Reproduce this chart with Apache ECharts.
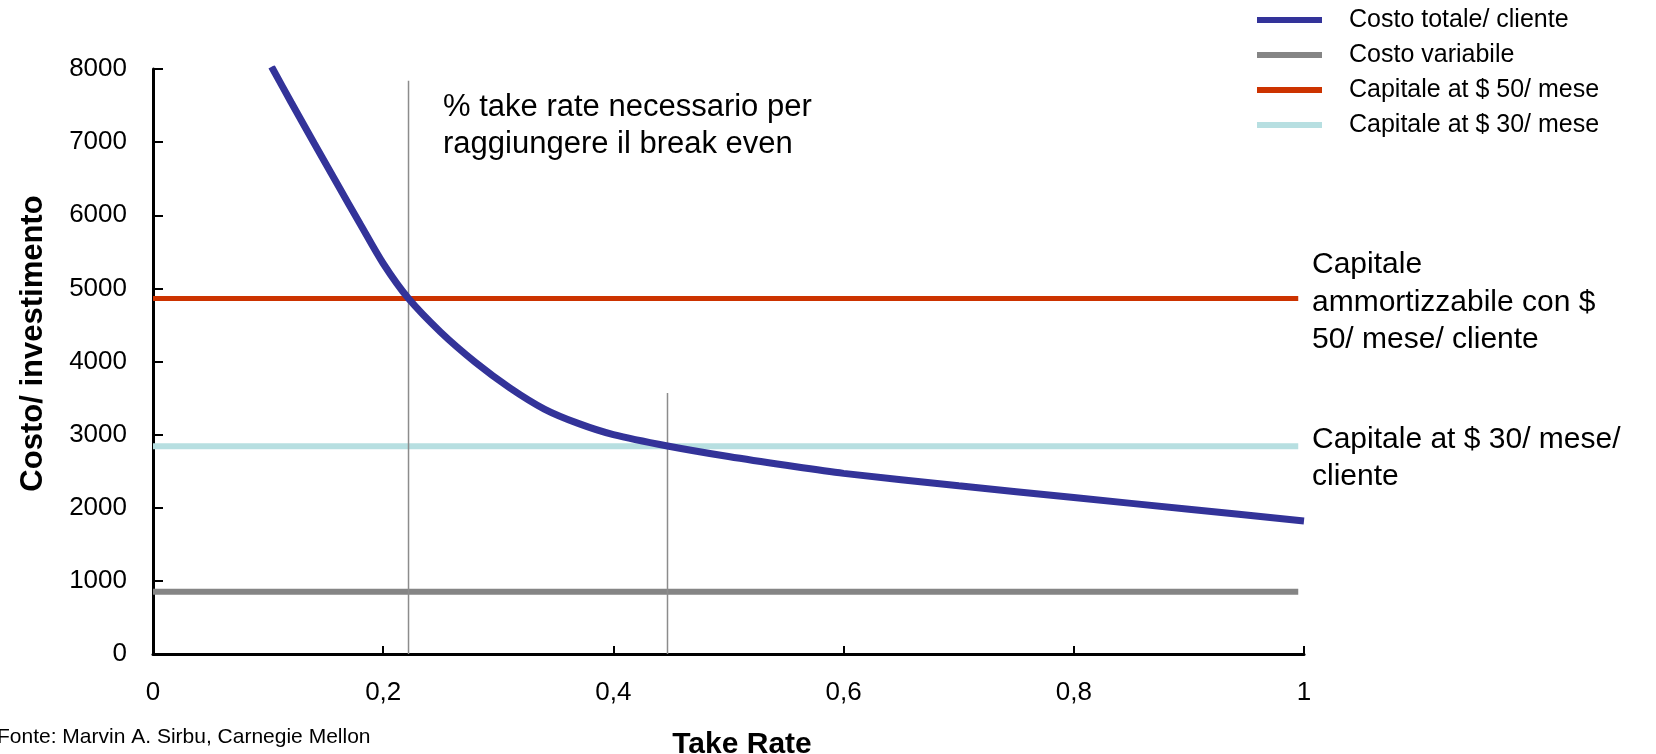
<!DOCTYPE html>
<html>
<head>
<meta charset="utf-8">
<title>Take rate break even</title>
<script src="https://cdn.jsdelivr.net/npm/echarts@6/dist/echarts.min.js"></script>
<style>
  html, body { margin: 0; padding: 0; background: #fff; }
  #chart { width: 1656px; height: 754px; }
</style>
</head>
<body>
<div id="chart"></div>
<script>
// take rate (x) e costo totale per cliente (y)
const takeRate = [0.103, 0.12, 0.14, 0.16, 0.18, 0.2, 0.222, 0.25, 0.28, 0.31, 0.34, 0.37, 0.4, 0.447, 0.5, 0.55, 0.6, 0.7, 0.8, 0.9, 1.0];
const costoTotale = [8030, 7545, 6985, 6430, 5880, 5340, 4860, 4400, 3990, 3640, 3350, 3150, 3000, 2845, 2700, 2580, 2470, 2300, 2140, 1980, 1820];

// livelli orizzontali
const costoVariabile = 850;
const capitale50 = 4860;
const capitale30 = 2840;
const lineFrom = 0;
const lineTo = 0.995;

// linee verticali di break even: [take rate, altezza]
const breakEven50 = [0.222, 7840];
const breakEven30 = [0.447, 3570];

const xTickLabels = ['0', '0,2', '0,4', '0,6', '0,8', '1'];
const yTickLabels = ['0', '1000', '2000', '3000', '4000', '5000', '6000', '7000', '8000'];

const seriesNames = ['Costo totale/ cliente', 'Costo variabile', 'Capitale at $ 50/ mese', 'Capitale at $ 30/ mese'];
const colors = ['#333399', '#858585', '#CC3300', '#B7DFE1'];

const FONT = '"Liberation Sans", Arial, sans-serif';

const chart = echarts.init(document.getElementById('chart'));

function hLine(name, value, color, width) {
  return {
    name: name,
    type: 'line',
    data: [[lineFrom, value], [lineTo, value]],
    symbol: 'none',
    lineStyle: { color: color, width: width },
    itemStyle: { color: color },
    z: 2,
    silent: true
  };
}
function vLine(p) {
  return {
    type: 'line',
    data: [[p[0], 0], [p[0], p[1]]],
    symbol: 'none',
    lineStyle: { color: '#8c8c8c', width: 1.5 },
    z: 3,
    silent: true
  };
}

const option = {
  backgroundColor: '#fff',
  animation: false,
  textStyle: { fontFamily: FONT },
  grid: {
    left: 153,
    right: 352,
    top: 69,
    bottom: 100,
    containLabel: false,
    outerBoundsMode: 'none'
  },
  legend: {
    data: seriesNames,
    orient: 'vertical',
    left: 1257,
    top: 6,
    padding: 0,
    icon: 'rect',
    itemWidth: 65,
    itemHeight: 6,
    itemGap: 7,
    selectedMode: false,
    itemStyle: { borderWidth: 0 },
    lineStyle: { width: 0 },
    textStyle: { fontSize: 25, lineHeight: 28, color: '#000', padding: [0, 0, 0, 22], fontFamily: FONT }
  },
  xAxis: {
    type: 'value',
    min: 0,
    max: 1,
    interval: 0.2,
    name: 'Take Rate',
    nameLocation: 'middle',
    nameGap: 76,
    nameTextStyle: { fontSize: 30, fontWeight: 'bold', color: '#000', padding: [0, 0, 0, 27] },
    axisLine: { lineStyle: { color: '#000', width: 3 } },
    axisTick: { inside: true, length: 8, lineStyle: { color: '#000', width: 2 } },
    axisLabel: {
      fontSize: 26,
      color: '#000',
      margin: 26,
      formatter: function (v, i) { return xTickLabels[i]; }
    },
    splitLine: { show: false }
  },
  yAxis: {
    type: 'value',
    min: 0,
    max: 8000,
    interval: 1000,
    name: 'Costo/ investimento',
    nameLocation: 'middle',
    nameGap: 104,
    nameRotate: 90,
    nameTextStyle: { fontSize: 31, fontWeight: 'bold', color: '#000', padding: [0, 0, 0, 36] },
    axisLine: { show: true, lineStyle: { color: '#000', width: 3 } },
    axisTick: { show: true, inside: true, length: 10, lineStyle: { color: '#000', width: 2 } },
    axisLabel: {
      fontSize: 26,
      color: '#000',
      margin: 26,
      formatter: function (v, i) { return yTickLabels[i]; }
    },
    splitLine: { show: false }
  },
  series: [
    hLine(seriesNames[1], costoVariabile, colors[1], 6),
    hLine(seriesNames[2], capitale50, colors[2], 5),
    hLine(seriesNames[3], capitale30, colors[3], 6),
    vLine(breakEven50),
    vLine(breakEven30),
    {
      name: seriesNames[0],
      type: 'line',
      data: takeRate.map(function (x, i) { return [x, costoTotale[i]]; }),
      smooth: 0.3,
      symbol: 'none',
      lineStyle: { color: colors[0], width: 7 },
      itemStyle: { color: colors[0] },
      z: 4
    }
  ],
  graphic: [
    {
      type: 'text',
      left: 443,
      top: 89,
      style: {
        text: '% take rate necessario per\nraggiungere il break even',
        fontSize: 31,
        lineHeight: 37,
        fill: '#000',
        fontFamily: FONT
      }
    },
    {
      type: 'text',
      left: 1312,
      top: 246,
      style: {
        text: 'Capitale\nammortizzabile con $\n50/ mese/ cliente',
        fontSize: 30,
        lineHeight: 37.5,
        fill: '#000',
        fontFamily: FONT
      }
    },
    {
      type: 'text',
      left: 1312,
      top: 421,
      style: {
        text: 'Capitale at $ 30/ mese/\ncliente',
        fontSize: 30,
        lineHeight: 37,
        fill: '#000',
        fontFamily: FONT
      }
    },
    {
      type: 'text',
      left: -3,
      top: 727,
      style: {
        text: 'Fonte: Marvin A. Sirbu, Carnegie Mellon',
        fontSize: 21,
        fill: '#000',
        fontFamily: FONT
      }
    }
  ]
};

chart.setOption(option);
</script>
</body>
</html>
